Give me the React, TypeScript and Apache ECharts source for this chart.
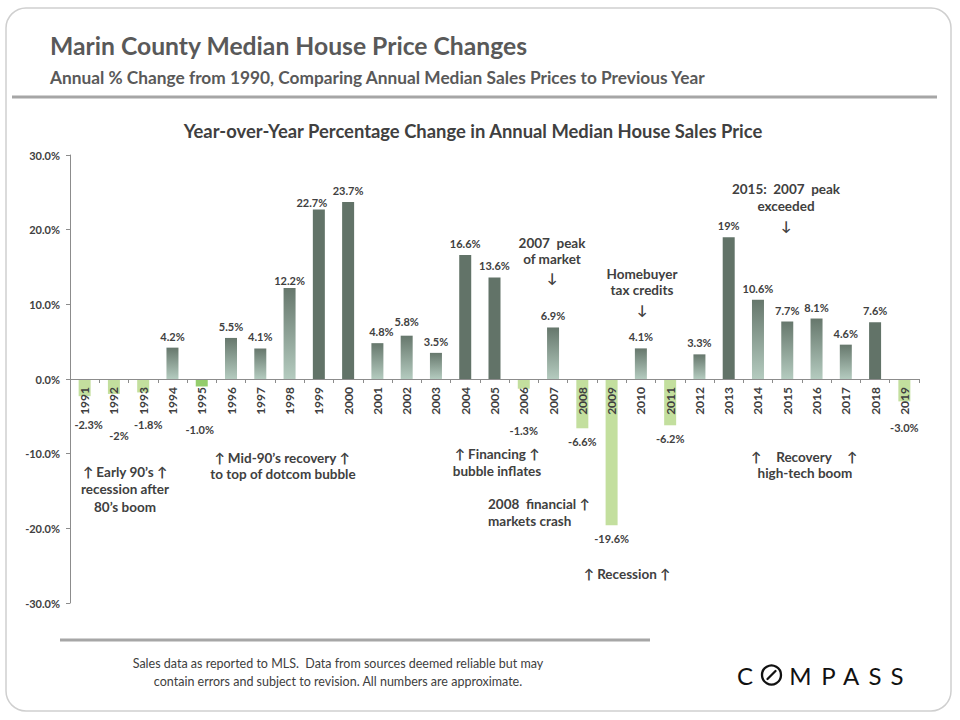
import React, { useEffect, useRef } from "react";
import * as echarts from "echarts";

const years = [
  "1991", "1992", "1993", "1994", "1995", "1996", "1997", "1998", "1999", "2000",
  "2001", "2002", "2003", "2004", "2005", "2006", "2007", "2008", "2009", "2010",
  "2011", "2012", "2013", "2014", "2015", "2016", "2017", "2018", "2019",
];
const changes = [
  -2.3, -2, -1.8, 4.2, -1.0, 5.5, 4.1, 12.2, 22.7, 23.7,
  4.8, 5.8, 3.5, 16.6, 13.6, -1.3, 6.9, -6.6, -19.6, 4.1,
  -6.2, 3.3, 19, 10.6, 7.7, 8.1, 4.6, 7.6, -3.0,
];
const valueLabels = [
  "-2.3%", "-2%", "-1.8%", "4.2%", "-1.0%", "5.5%", "4.1%", "12.2%", "22.7%", "23.7%",
  "4.8%", "5.8%", "3.5%", "16.6%", "13.6%", "-1.3%", "6.9%", "-6.6%", "-19.6%", "4.1%",
  "-6.2%", "3.3%", "19%", "10.6%", "7.7%", "8.1%", "4.6%", "7.6%", "-3.0%",
];
const yMin = -30;
const yMax = 30;
const yStep = 10;

// ---- styling (not data) ----
const FONT = "Lato, 'Open Sans', sans-serif";
const SOLID_YEARS = ["1999", "2000", "2004", "2005", "2013", "2018"];
const BRIGHT_YEARS = ["1995"];
const LABEL_OFFSETS: Record<string, number[]> = {
  "1991": [4, 15],
  "1992": [5, 28],
  "1993": [5, 19],
  "1995": [-2, 30],
  "2006": [0, 28],
  "2019": [0, 13],
  "1998": [0, 4],
  "1999": [-7, 4],
  "2001": [4, 0],
  "2002": [0, -3],
};

const GRID_TOP = 155;
const GRID_BOTTOM = 117;
const GRID_H = 720 - GRID_TOP - GRID_BOTTOM;

const DARK = "#627368";
const GRAD = () =>
  new echarts.graphic.LinearGradient(0, 0, 0, 1, [
    { offset: 0, color: "#66776c" },
    { offset: 1, color: "#b4cbbf" },
  ]);

function txt(text: string, x: number, y: number, font: string, fill: string, align = "center") {
  return {
    type: "text",
    style: {
      text,
      x,
      y,
      font,
      fill,
      align,
      verticalAlign: "middle",
      textAlign: align,
      textVerticalAlign: "middle",
    },
  };
}

const ANN = `bold 13.5px ${FONT}`;
const ANN_C = "#404040";

export default function App() {
  const ref = useRef<HTMLDivElement>(null);
  useEffect(() => {
    if (!ref.current) return;
    const chart = echarts.init(ref.current, undefined, { renderer: "svg" });
    const data = changes.map((v, i) => {
      const y = years[i];
      let color: any;
      if (v < 0) color = BRIGHT_YEARS.includes(y) ? "#94cd6c" : "#c3df9e";
      else color = SOLID_YEARS.includes(y) ? DARK : GRAD();
      return {
        value: v,
        itemStyle: { color },
        label: {
          position: v < 0 ? "bottom" : "top",
          distance: v < 0 ? 8 : 6,
          offset: LABEL_OFFSETS[y] || [0, 0],
        },
      };
    });

    // distance from grid bottom up to the zero line
    const zeroOffset = -GRID_H * ((0 - yMin) / (yMax - yMin));

    const logoY = 675;
    const logoFont = `24px ${FONT}`;
    const graphic: any[] = [
      {
        type: "rect",
        shape: { x: 6, y: 8, width: 945, height: 703, r: 20 },
        style: { fill: "none", stroke: "#cfcfcf", lineWidth: 1.5 },
        z: -10,
      },
      txt("Marin County Median House Price Changes", 50, 45, `bold 24.7px ${FONT}`, "#595959", "left"),
      txt(
        "Annual % Change from 1990, Comparing Annual Median Sales Prices to Previous Year",
        50, 77, `bold 17.3px ${FONT}`, "#595959", "left"
      ),
      { type: "line", shape: { x1: 12, y1: 97, x2: 937, y2: 97 }, style: { stroke: "#a6a6a6", lineWidth: 3 } },
      txt("Year-over-Year Percentage Change in Annual Median House Sales Price", 473, 131, `bold 18.4px ${FONT}`, "#404040"),
      { type: "line", shape: { x1: 60, y1: 640, x2: 650, y2: 640 }, style: { stroke: "#a6a6a6", lineWidth: 3 } },
      txt("Sales data as reported to MLS.  Data from sources deemed reliable but may", 338, 663, `12.5px ${FONT}`, "#404040"),
      txt("contain errors and subject to revision. All numbers are approximate.", 338, 681, `12.5px ${FONT}`, "#404040"),

      // annotations
      txt("↑ Early 90’s ↑", 125, 472, ANN, ANN_C),
      txt("recession after", 125, 489, ANN, ANN_C),
      txt("80’s boom", 125, 507, ANN, ANN_C),
      txt("↑ Mid-90’s recovery ↑", 282, 458, ANN, ANN_C),
      txt("to top of dotcom bubble", 283, 474, ANN, ANN_C),
      txt("↑ Financing ↑", 497, 454, ANN, ANN_C),
      txt("bubble inflates", 497, 471, ANN, ANN_C),
      txt("2008  financial ↑", 488, 504, ANN, ANN_C, "left"),
      txt("markets crash", 488, 521, ANN, ANN_C, "left"),
      txt("↑ Recession ↑", 627, 574, ANN, ANN_C),
      txt("↑", 756, 457, ANN, ANN_C),
      txt("Recovery", 804, 457, ANN, ANN_C),
      txt("↑", 852, 457, ANN, ANN_C),
      txt("high-tech boom", 805, 473, ANN, ANN_C),
      txt("2007  peak", 552, 243, ANN, ANN_C),
      txt("of market", 552, 259, ANN, ANN_C),
      txt("↓", 552, 278, ANN, ANN_C),
      txt("Homebuyer", 642, 274, ANN, ANN_C),
      txt("tax credits", 642, 290, ANN, ANN_C),
      txt("↓", 642, 310, ANN, ANN_C),
      txt("2015:  2007  peak", 786, 189, ANN, ANN_C),
      txt("exceeded", 786, 206, ANN, ANN_C),
      txt("↓", 786, 226, ANN, ANN_C),

      // logo
      txt("C", 745, logoY, logoFont, "#111111"),
      {
        type: "circle",
        shape: { cx: 771.5, cy: logoY, r: 9.5 },
        style: { fill: "none", stroke: "#111111", lineWidth: 2.3 },
      },
      {
        type: "line",
        shape: { x1: 767.5, y1: logoY + 4, x2: 775.5, y2: logoY - 4 },
        style: { stroke: "#111111", lineWidth: 2.3, lineCap: "round" },
      },
      txt("M", 800.5, logoY, logoFont, "#111111"),
      txt("P", 828.5, logoY, logoFont, "#111111"),
      txt("A", 851, logoY, logoFont, "#111111"),
      txt("S", 875, logoY, logoFont, "#111111"),
      txt("S", 897, logoY, logoFont, "#111111"),
    ];

    chart.setOption({
      animation: false,
      backgroundColor: "#ffffff",
      textStyle: { fontFamily: FONT },
      grid: { left: 70, right: 41, top: GRID_TOP, bottom: GRID_BOTTOM, containLabel: false },
      xAxis: {
        type: "category",
        data: years,
        z: 5,
        offset: zeroOffset,
        axisLine: { onZero: false, lineStyle: { color: "#8c8c8c", width: 1 } },
        axisTick: { show: true, alignWithLabel: false, length: 4, lineStyle: { color: "#8c8c8c" } },
        axisLabel: {
          interval: 0,
          rotate: 90,
          margin: 8,
          fontSize: 12,
          fontWeight: "bold",
          color: "#404040",
          fontFamily: FONT,
        },
      },
      yAxis: {
        type: "value",
        min: yMin,
        max: yMax,
        interval: yStep,
        axisLine: { show: true, lineStyle: { color: "#8c8c8c", width: 1 } },
        axisTick: { show: true, length: 4, lineStyle: { color: "#8c8c8c" } },
        splitLine: { show: false },
        axisLabel: {
          formatter: (v: number) => v.toFixed(1) + "%",
          fontSize: 11,
          fontWeight: "bold",
          color: "#404040",
          margin: 10,
          fontFamily: FONT,
        },
      },
      series: [
        {
          type: "bar",
          data,
          barWidth: 12,
          label: {
            show: true,
            formatter: (p: any) => valueLabels[p.dataIndex],
            fontSize: 11,
            fontWeight: "bold",
            color: "#404040",
            fontFamily: FONT,
          },
        },
      ],
      graphic,
    });
    return () => chart.dispose();
  }, []);
  return (
    <div
      ref={ref}
      style={{ position: "absolute", left: 0, top: 0, width: 960, height: 720, background: "#fff" }}
    />
  );
}
